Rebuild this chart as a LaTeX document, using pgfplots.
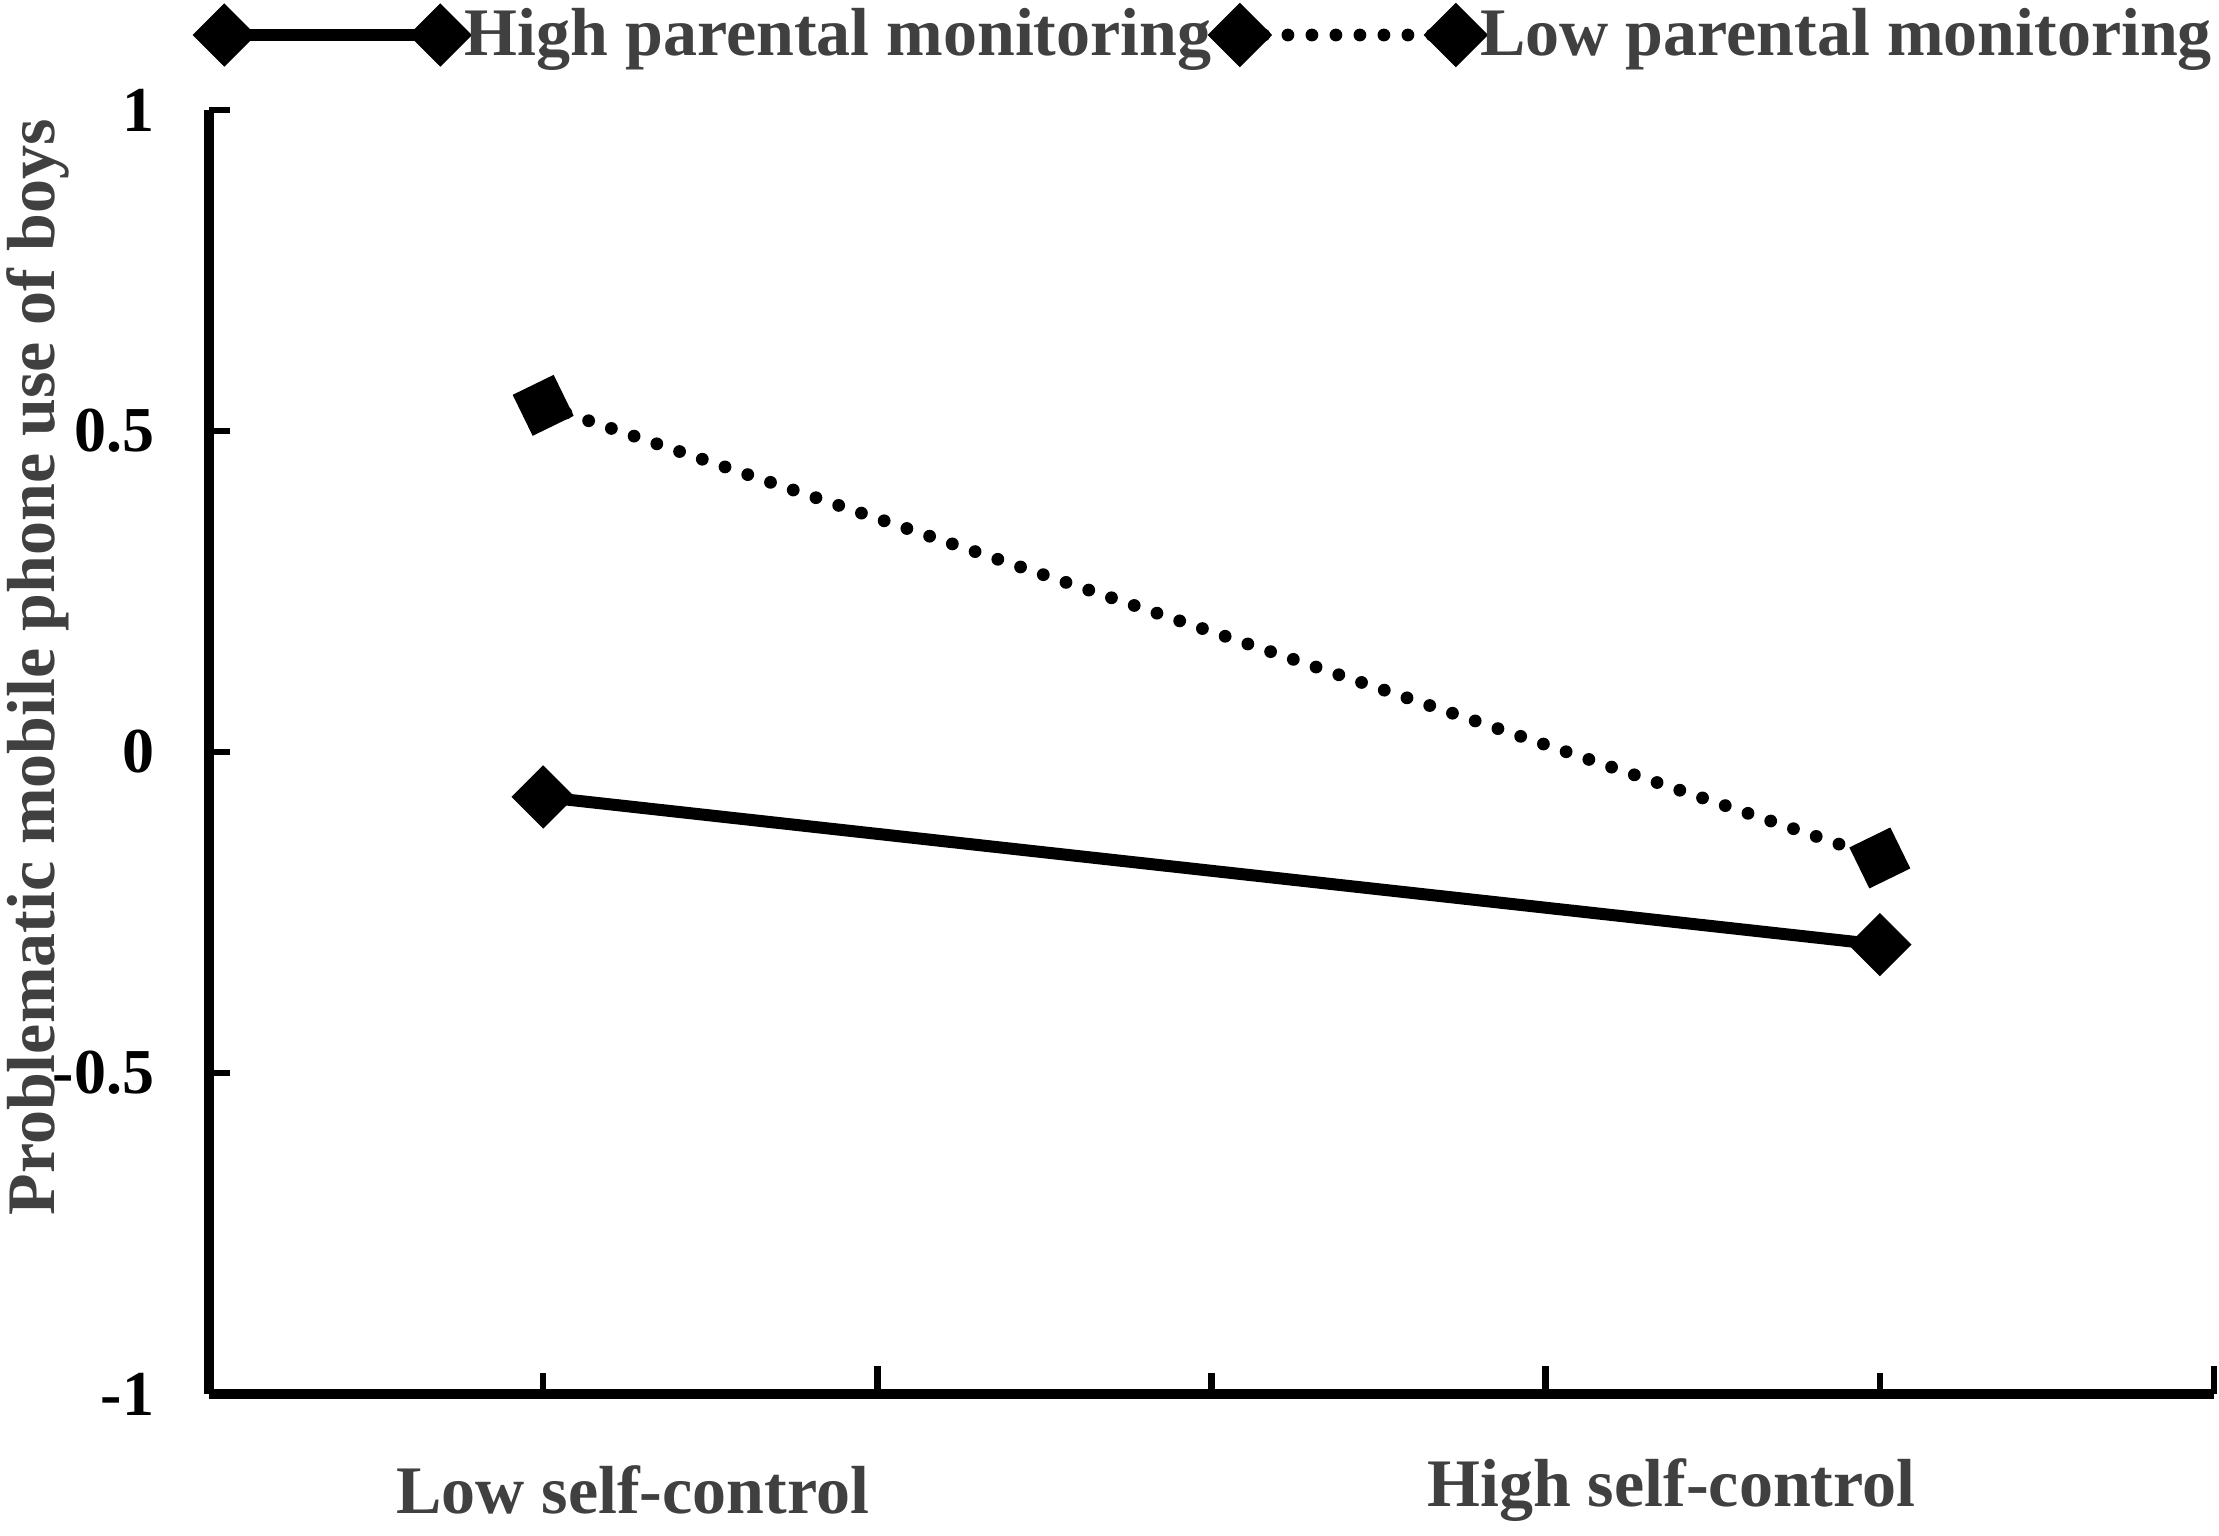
\documentclass[border=0pt]{standalone}
\usepackage{fontspec}
\setmainfont{Liberation Serif}
\usepackage{pgfplots}
\pgfplotsset{compat=1.18}
\definecolor{lbl}{HTML}{404040}
\begin{document}
\begin{tikzpicture}
\begin{axis}[
  scale only axis, width=501.25pt, height=321pt,
  xmin=0, xmax=6, ymin=-1, ymax=1,
  axis lines=left, axis line style={-, line width=2.4pt, black},
  tick align=inside,
  xtick={1,3,5}, xticklabels={},
  extra x ticks={0,2,4,6}, extra x tick labels={},
  extra x tick style={major tick length=7pt},
  major tick length=5.2pt,
  tick style={line width=1.6pt, black},
  ytick={-1,-0.5,0,0.5,1},
  yticklabels={\textbf{-1},\textbf{-0.5},\textbf{0},\textbf{0.5},\textbf{1}},
  yticklabel style={font=\fontsize{16}{18}\selectfont\bfseries, anchor=east, xshift=-10.2pt},
  ylabel={Problematic mobile phone use of boys},
  ylabel style={at={(axis description cs:-0.0852,0.566)}, anchor=center, font=\fontsize{17}{20}\selectfont\bfseries, text=lbl},
  clip=false,
  legend style={at={(1,1)}, anchor=east, yshift=18.75pt, draw=none, fill=none,
    legend columns=-1, font=\fontsize{17}{19}\selectfont\bfseries, text=lbl,
    /tikz/every even column/.append style={column sep=1pt},
    inner sep=0pt, nodes={inner sep=0.3pt}},
  legend image code/.code={
    \draw[#1, mark=none] (0pt,0pt) -- (54pt,0pt);
    \draw[#1, solid, only marks, mark=square*, mark options={solid, rotate=45}] plot coordinates {(0pt,0pt) (54pt,0pt)};
  },
]
\addplot[black, line width=3pt, mark=square*, mark size=4.1pt, mark options={solid, rotate=45}]
  coordinates {(1,-0.07) (5,-0.30)};
\addlegendentry{High parental monitoring}
\addplot[black, line width=3.2pt, line cap=round, dash pattern=on 0pt off 6pt, mark=square*, mark size=4.1pt, mark options={solid, rotate=26}]
  coordinates {(1,0.54) (5,-0.165)};
\addlegendentry{Low parental monitoring}
\node[font=\fontsize{17}{20}\selectfont\bfseries, text=lbl] at (axis cs:1.268,-1) [yshift=-24pt] {Low self-control};
\node[font=\fontsize{17}{20}\selectfont\bfseries, text=lbl] at (axis cs:4.376,-1) [yshift=-24pt] {High self-control};
\end{axis}
\pgfresetboundingbox
\path ([shift={(-52.25pt,-35.25pt)}]current axis.south west) rectangle ([shift={(1.25pt,27.5pt)}]current axis.north east);
\end{tikzpicture}
\end{document}
